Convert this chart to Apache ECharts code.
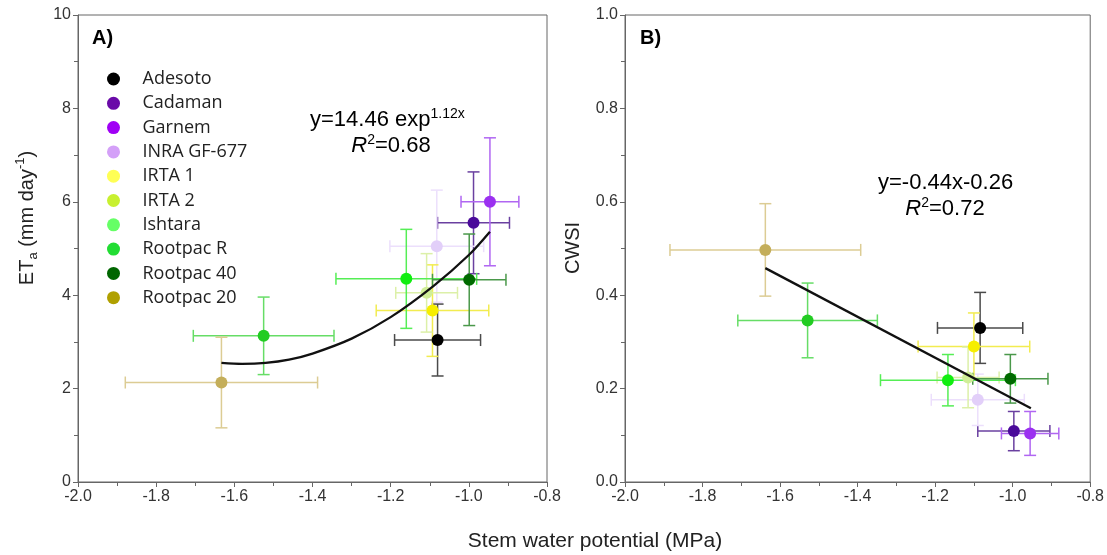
<!DOCTYPE html>
<html><head><meta charset="utf-8">
<script src="https://cdn.jsdelivr.net/npm/echarts@6/dist/echarts.min.js"></script>
<style>html,body{margin:0;padding:0;background:#fff}#c{width:1107px;height:555px}</style>
</head><body><div id="c"></div>
<script>
// ---- data ----
const cultivars = ['Adesoto','Cadaman','Garnem','INRA GF-677','IRTA 1','IRTA 2','Ishtara','Rootpac R','Rootpac 40','Rootpac 20'];
// Panel A: stem water potential vs ETa
const swpA     = [-1.08, -0.988, -0.946, -1.082, -1.093, -1.108, -1.16, -1.525, -0.999, -1.633];
const swpAErr  = [0.11, 0.092, 0.074, 0.12, 0.144, 0.079, 0.18, 0.18, 0.094, 0.246];
const etA      = [3.04, 5.55, 6.00, 5.05, 3.67, 4.05, 4.35, 3.13, 4.33, 2.13];
const etAErr   = [0.77, 1.09, 1.37, 1.20, 0.98, 0.84, 1.06, 0.83, 0.98, 0.97];
// Panel B: stem water potential vs CWSI
const swpB     = [-1.084, -0.997, -0.955, -1.09, -1.10, -1.115, -1.167, -1.529, -1.006, -1.638];
const swpBErr  = [0.11, 0.093, 0.074, 0.12, 0.144, 0.08, 0.174, 0.18, 0.097, 0.246];
const cwsiB    = [0.330, 0.109, 0.104, 0.176, 0.290, 0.224, 0.218, 0.346, 0.221, 0.497];
const cwsiBErr = [0.076, 0.042, 0.047, 0.055, 0.072, 0.065, 0.055, 0.080, 0.052, 0.099];
// fitted curves
const fitAx = [-1.633, -1.58, -1.52, -1.46, -1.4, -1.3, -1.2, -1.09, -1.0, -0.946];
const fitAy = [2.55, 2.53, 2.55, 2.62, 2.75, 3.07, 3.53, 4.2, 4.86, 5.36];
const fitBx = [-1.638, -0.953];
const fitBy = [0.458, 0.158];
const xTicks = [-2.0, -1.8, -1.6, -1.4, -1.2, -1.0, -0.8];

// ---- styles ----
const pointColors  = ['#000000','#4a0a9a','#9b30f0','#e2cff9','#f6ee00','#d0ee98','#11ee11','#22cc22','#006a00','#c4ae5a'];
const barColors    = ['#4a4a4a','#6a40a0','#b066f2','#ecdffc','#f2ec50','#dcf0a8','#55ee55','#66dd66','#4a984a','#dccc94'];
const legendColors = ['#000000','#6a0aa8','#a000f5','#d4a0f8','#ffff55','#c8f030','#66ff66','#22dd33','#006600','#b0a000'];

const FONT = 'Liberation Sans, Arial, sans-serif';

function errRender(params, api) {
  const x = api.value(0), y = api.value(1), ex = api.value(2), ey = api.value(3);
  const col = barColors[api.value(4)];
  const l = api.coord([x - ex, y]), r = api.coord([x + ex, y]);
  const t = api.coord([x, y + ey]), b = api.coord([x, y - ey]);
  const cap = 6;
  const st = { stroke: col, lineWidth: 1.5 };
  const line = (x1, y1, x2, y2) => ({ type: 'line', shape: { x1, y1, x2, y2 }, style: st });
  return { type: 'group', children: [
    line(l[0], l[1], r[0], r[1]),
    line(t[0], t[1], b[0], b[1]),
    line(l[0], l[1] - cap, l[0], l[1] + cap),
    line(r[0], r[1] - cap, r[0], r[1] + cap),
    line(t[0] - cap, t[1], t[0] + cap, t[1]),
    line(b[0] - cap, b[1], b[0] + cap, b[1])
  ]};
}

function xAxis(gi) {
  return {
    type: 'value', gridIndex: gi, min: xTicks[0], max: xTicks[xTicks.length - 1], interval: 0.2,
    axisLine: { onZero: false, lineStyle: { color: '#666' } },
    axisTick: { show: true, length: 5, lineStyle: { color: '#666' } },
    minorTick: { show: true, splitNumber: 2, length: 4, lineStyle: { color: '#666' } },
    splitLine: { show: false },
    axisLabel: { color: '#333', fontSize: 16, fontFamily: FONT, margin: 7, formatter: v => v.toFixed(1) }
  };
}
function yAxis(gi, max, interval, fmt) {
  return {
    type: 'value', gridIndex: gi, min: 0, max: max, interval: interval,
    axisLine: { show: true, lineStyle: { color: '#666' } },
    axisTick: { show: true, length: 5, lineStyle: { color: '#666' } },
    minorTick: { show: true, splitNumber: 2, length: 4, lineStyle: { color: '#666' } },
    splitLine: { show: false },
    axisLabel: { color: '#333', fontSize: 16, fontFamily: FONT, margin: 7, formatter: fmt }
  };
}

const series = [];
// error bars
series.push({ type: 'custom', xAxisIndex: 0, yAxisIndex: 0, renderItem: errRender, z: 1, silent: true,
  data: cultivars.map((c, i) => [swpA[i], etA[i], swpAErr[i], etAErr[i], i]) });
series.push({ type: 'custom', xAxisIndex: 1, yAxisIndex: 1, renderItem: errRender, z: 1, silent: true,
  data: cultivars.map((c, i) => [swpB[i], cwsiB[i], swpBErr[i], cwsiBErr[i], i]) });
// points
cultivars.forEach((c, i) => {
  series.push({ type: 'scatter', name: c, xAxisIndex: 0, yAxisIndex: 0, symbolSize: 12, z: 2,
    itemStyle: { color: pointColors[i], opacity: 1 }, data: [[swpA[i], etA[i]]] });
  series.push({ type: 'scatter', name: c, xAxisIndex: 1, yAxisIndex: 1, symbolSize: 12, z: 2,
    itemStyle: { color: pointColors[i], opacity: 1 }, data: [[swpB[i], cwsiB[i]]] });
});
// fits
series.push({ type: 'line', xAxisIndex: 0, yAxisIndex: 0, smooth: 0.3, symbol: 'none', z: 3,
  lineStyle: { color: '#111', width: 2.3 }, data: fitAx.map((x, i) => [x, fitAy[i]]) });
series.push({ type: 'line', xAxisIndex: 1, yAxisIndex: 1, symbol: 'none', z: 3,
  lineStyle: { color: '#111', width: 2.3 }, data: fitBx.map((x, i) => [x, fitBy[i]]) });

const supStyle = { fontSize: 14, fontFamily: FONT, fill: '#000', verticalAlign: 'top', lineHeight: 10 };
const eqRich = { i: { fontStyle: 'italic', fontSize: 22, fontFamily: FONT, fill: '#000', lineHeight: 26 }, sup: supStyle,
                 n: { fontSize: 22, fontFamily: FONT, fill: '#000', lineHeight: 26 } };

const chart = echarts.init(document.getElementById('c'), null, { renderer: 'canvas' });
chart.setOption({
  animation: false,
  backgroundColor: '#fff',
  grid: [
    { left: 78, right: 560, top: 15, bottom: 73, show: true, borderColor: '#666', borderWidth: 1 },
    { left: 625, right: 13, top: 15, bottom: 73, show: true, borderColor: '#666', borderWidth: 1 }
  ],
  xAxis: [xAxis(0), xAxis(1)],
  yAxis: [yAxis(0, 10, 2, v => String(v)), yAxis(1, 1, 0.2, v => v.toFixed(1))],
  legend: {
    orient: 'vertical', left: 102, top: 65, itemWidth: 48, itemHeight: 13, itemGap: 6.3,
    icon: 'circle', selectedMode: false,
    textStyle: { fontSize: 18, fontFamily: 'Open Sans, Noto Sans, sans-serif', color: '#222', lineHeight: 18 },
    data: cultivars.map((c, i) => ({ name: c, itemStyle: { color: legendColors[i] } }))
  },
  graphic: [
    { type: 'text', left: 92, top: 28, style: { text: 'A)', font: 'bold 20px ' + FONT, fill: '#000' } },
    { type: 'text', left: 640, top: 28, style: { text: 'B)', font: 'bold 20px ' + FONT, fill: '#000' } },
    { type: 'text', x: 310, y: 120, style: { text: '{n|y=14.46 exp}{sup|1.12x}', verticalAlign: 'middle', rich: eqRich } },
    { type: 'text', x: 391, y: 146, style: { text: '{i|R}{sup|2}{n|=0.68}', align: 'center', verticalAlign: 'middle', rich: eqRich } },
    { type: 'text', x: 878, y: 183, style: { text: '{n|y=-0.44x-0.26}', verticalAlign: 'middle', rich: eqRich } },
    { type: 'text', x: 945, y: 209, style: { text: '{i|R}{sup|2}{n|=0.72}', align: 'center', verticalAlign: 'middle', rich: eqRich } },
    { type: 'text', x: 27, y: 218, rotation: Math.PI / 2,
      style: { text: '{n|ET}{sub|a}{n| (mm day}{sup|-1}{n|)}', align: 'center', verticalAlign: 'middle',
        rich: { n: { fontSize: 20, fontFamily: FONT, fill: '#222', lineHeight: 26 },
                sub: { fontSize: 13, fontFamily: FONT, fill: '#222', verticalAlign: 'bottom', lineHeight: 10 },
                sup: { fontSize: 13, fontFamily: FONT, fill: '#222', verticalAlign: 'top', lineHeight: 10 } } } },
    { type: 'text', x: 573, y: 248, rotation: Math.PI / 2,
      style: { text: 'CWSI', fontSize: 20, fontFamily: FONT, fill: '#222', align: 'center', verticalAlign: 'middle' } },
    { type: 'text', x: 595, y: 541, style: { text: 'Stem water potential (MPa)', fill: '#222', fontSize: 21, fontFamily: FONT, align: 'center', verticalAlign: 'middle' } }
  ],
  series: series
});
</script></body></html>
